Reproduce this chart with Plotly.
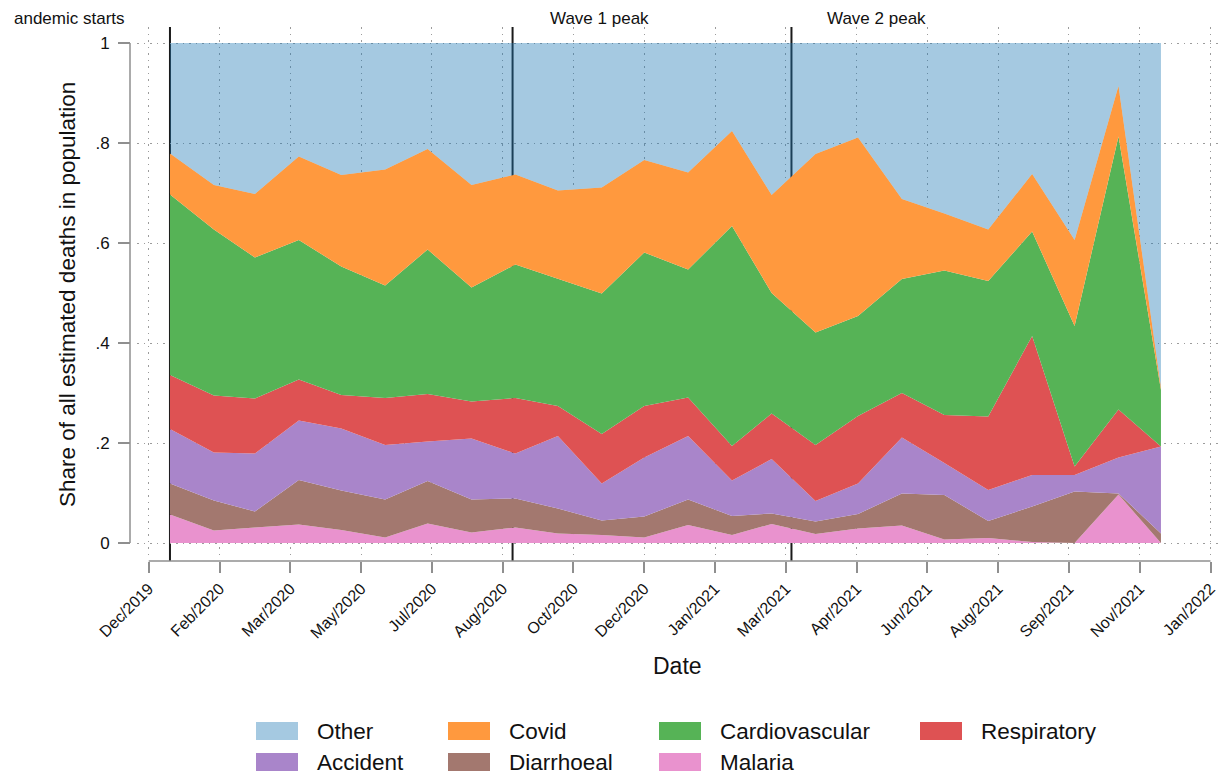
import plotly.graph_objects as go

# ---------------- data ----------------
months = ["2020-01-01", "2020-02-01", "2020-03-01", "2020-04-01", "2020-05-01", "2020-06-01",
          "2020-07-01", "2020-08-01", "2020-09-01", "2020-10-01", "2020-11-01", "2020-12-01",
          "2021-01-01", "2021-02-01", "2021-03-01", "2021-04-01", "2021-05-01", "2021-06-01",
          "2021-07-01", "2021-08-01", "2021-09-01", "2021-10-01", "2021-11-01", "2021-12-01"]

malaria = [0.057, 0.025, 0.031, 0.037, 0.026, 0.011, 0.039, 0.021, 0.031, 0.019, 0.016, 0.011,
           0.036, 0.016, 0.038, 0.018, 0.029, 0.035, 0.007, 0.010, 0.002, 0.000, 0.097, 0.000]
diarrhoeal = [0.062, 0.060, 0.032, 0.089, 0.079, 0.076, 0.085, 0.066, 0.058, 0.050, 0.029, 0.042,
              0.051, 0.038, 0.021, 0.025, 0.029, 0.064, 0.089, 0.034, 0.071, 0.103, 0.002, 0.019]
accident = [0.109, 0.096, 0.116, 0.119, 0.124, 0.109, 0.079, 0.122, 0.090, 0.145, 0.074, 0.118,
            0.127, 0.071, 0.109, 0.041, 0.061, 0.112, 0.064, 0.062, 0.063, 0.033, 0.072, 0.174]
respiratory = [0.108, 0.114, 0.110, 0.082, 0.067, 0.094, 0.095, 0.074, 0.111, 0.060, 0.099, 0.103,
               0.077, 0.069, 0.091, 0.112, 0.135, 0.089, 0.096, 0.147, 0.278, 0.017, 0.096, 0.000]
cardiovascular = [0.361, 0.332, 0.282, 0.279, 0.257, 0.225, 0.289, 0.228, 0.267, 0.255, 0.281, 0.307,
                  0.256, 0.440, 0.241, 0.225, 0.200, 0.228, 0.289, 0.271, 0.209, 0.281, 0.546, 0.113]
covid = [0.082, 0.089, 0.127, 0.167, 0.183, 0.232, 0.201, 0.205, 0.180, 0.176, 0.212, 0.185,
         0.194, 0.190, 0.196, 0.357, 0.357, 0.160, 0.114, 0.103, 0.115, 0.172, 0.101, 0.005]
other = [0.221, 0.284, 0.302, 0.227, 0.264, 0.253, 0.212, 0.284, 0.263, 0.295, 0.289, 0.234,
         0.259, 0.176, 0.304, 0.222, 0.189, 0.312, 0.341, 0.373, 0.262, 0.394, 0.086, 0.689]

series_names = ["Malaria", "Diarrhoeal", "Accident", "Respiratory", "Cardiovascular", "Covid", "Other"]
series_values = [malaria, diarrhoeal, accident, respiratory, cardiovascular, covid, other]
series_colors = ["#e992ce", "#a3786f", "#a985ca", "#de5253", "#56b356", "#ff993e",
                 "rgba(31,119,180,0.4)"]

x_tick_dates = ["2019-12-17", "2020-02-05", "2020-03-26", "2020-05-15", "2020-07-04", "2020-08-23",
                "2020-10-12", "2020-12-01", "2021-01-20", "2021-03-11", "2021-04-30", "2021-06-19",
                "2021-08-08", "2021-09-27", "2021-11-16", "2022-01-05"]
x_tick_labels = ["Dec/2019", "Feb/2020", "Mar/2020", "May/2020", "Jul/2020", "Aug/2020",
                 "Oct/2020", "Dec/2020", "Jan/2021", "Mar/2021", "Apr/2021", "Jun/2021",
                 "Aug/2021", "Sep/2021", "Nov/2021", "Jan/2022"]
y_tick_vals = [0, 0.2, 0.4, 0.6, 0.8, 1]
y_tick_labels = ["0", ".2", ".4", ".6", ".8", "1"]

event_dates = ["2020-01-01", "2020-08-30", "2021-03-15"]
event_labels = ["andemic starts", "Wave 1 peak", "Wave 2 peak"]

legend_rows = [["Other", "Covid", "Cardiovascular", "Respiratory"],
               ["Accident", "Diarrhoeal", "Malaria"]]

# ---------------- layout helpers ----------------
W, H = 1221, 776
ML, MR, MT, MB = 130, 3, 27, 215
PW, PH = W - ML - MR, H - MT - MB


def px(x):
    return (x - ML) / PW


def py(y):
    return (H - MB - y) / PH


FONT = "Liberation Sans, Arial, Helvetica, sans-serif"
TXT = "#111111"
AXC = "#8f8f8f"
GRIDC = "#9c9c9c"

fig = go.Figure()
for name, vals, col in zip(series_names, series_values, series_colors):
    fig.add_trace(go.Scatter(
        x=months, y=vals, name=name, mode="lines", stackgroup="one",
        line=dict(width=0), fillcolor=col, showlegend=False, hoverinfo="x+y+name"))

shapes = []
# event lines (drawn under the areas)
for d in event_dates:
    shapes.append(dict(type="line", xref="x", yref="paper", x0=d, x1=d, y0=0, y1=1,
                       line=dict(color="#1a1a1a", width=2), layer="below"))
# axis lines spanning the tick range
shapes.append(dict(type="line", xref="x", yref="paper", x0=x_tick_dates[0], x1=x_tick_dates[-1],
                   y0=0, y1=0, line=dict(color=AXC, width=1.5)))
shapes.append(dict(type="line", xref="paper", yref="y", x0=0, x1=0, y0=0, y1=1,
                   line=dict(color=AXC, width=1.5)))

annotations = []
ev_px = [12, 548, 825]
for lab, xp in zip(event_labels, ev_px):
    annotations.append(dict(xref="paper", yref="paper", x=px(xp), y=py(19), text=lab,
                            showarrow=False, xanchor="left", yanchor="middle",
                            font=dict(size=17, color=TXT, family=FONT)))
# axis titles
annotations.append(dict(xref="paper", yref="paper", x=px(67), y=py(295),
                        text="Share of all estimated deaths in population", textangle=-90,
                        showarrow=False, xanchor="center", yanchor="middle",
                        font=dict(size=22.5, color=TXT, family=FONT)))
annotations.append(dict(xref="paper", yref="paper", x=px(677), y=py(666), text="Date",
                        showarrow=False, xanchor="center", yanchor="middle",
                        font=dict(size=23, color=TXT, family=FONT)))

# legend (custom grid like the original)
col_left = [256, 448, 659, 920]
row_y = [731, 762]
color_of = dict(zip(series_names, series_colors))
for r, row in enumerate(legend_rows):
    for c, name in enumerate(row):
        x0 = col_left[c]
        yc = row_y[r]
        shapes.append(dict(type="rect", xref="paper", yref="paper",
                           x0=px(x0), x1=px(x0 + 42), y0=py(yc + 9), y1=py(yc - 9),
                           fillcolor=color_of[name], line=dict(width=0)))
        annotations.append(dict(xref="paper", yref="paper", x=px(x0 + 59), y=py(yc), text=name,
                                showarrow=False, xanchor="left", yanchor="middle",
                                font=dict(size=22.5, color=TXT, family=FONT)))

fig.update_layout(
    width=W, height=H,
    margin=dict(l=ML, r=MR, t=MT, b=MB, pad=0),
    paper_bgcolor="white", plot_bgcolor="white",
    font=dict(family=FONT, color=TXT),
    shapes=shapes, annotations=annotations, showlegend=False,
    xaxis=dict(domain=[px(137), 1], anchor="free", position=0,
               type="date", range=["2019-12-08 17:00", "2022-01-10 07:00"],
               tickmode="array", tickvals=x_tick_dates, ticktext=x_tick_labels, tickangle=-45,
               ticks="outside", ticklen=11, tickwidth=1.5, tickcolor=AXC,
               tickfont=dict(size=16, color=TXT, family=FONT),
               showgrid=True, gridcolor=GRIDC, gridwidth=1.3, griddash="1.5px,5px",
               showline=False, zeroline=False),
    yaxis=dict(domain=[py(555), 1], anchor="free", position=0,
               range=[-0.024, 1.032],
               tickmode="array", tickvals=y_tick_vals, ticktext=y_tick_labels,
               ticks="outside", ticklen=12, tickwidth=1.5, tickcolor=AXC, ticklabelstandoff=5,
               tickfont=dict(size=17, color=TXT, family=FONT),
               showgrid=True, gridcolor=GRIDC, gridwidth=1.3, griddash="1.5px,5px",
               showline=False, zeroline=False),
)

fig.write_html("out.html", config={"displayModeBar": False},
               post_script="document.body.style.margin='0px';document.body.style.overflow='hidden';")
